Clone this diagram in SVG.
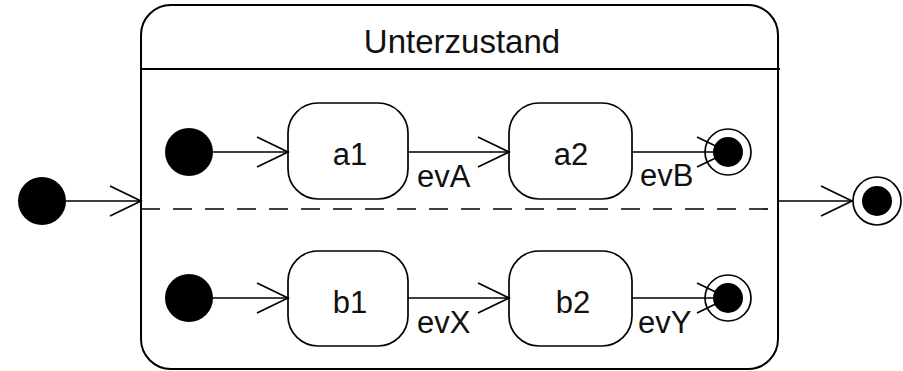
<svg xmlns="http://www.w3.org/2000/svg" width="903" height="371" viewBox="0 0 903 371">
  <style>
    text { font-family: "Liberation Sans", Arial, sans-serif; fill: #111; }
    .title { font-size: 33px; text-anchor: middle; }
    .lbl { font-size: 31px; text-anchor: middle; }
    .ev { font-size: 31px; }
    .state { fill: #fff; stroke: #000; stroke-width: 1.7; }
    .init { fill: #000; }
    .fring { fill: #fff; stroke: #000; stroke-width: 1.7; }
    .fdot { fill: #000; }
    .edge { fill: none; stroke: #000; stroke-width: 1.7; marker-end: url(#open); }
  </style>
  <defs>
    <marker id="open" markerUnits="userSpaceOnUse" viewBox="-34 -18 36 36" markerWidth="36" markerHeight="36" refX="0" refY="0" orient="auto" overflow="visible">
      <path d="M-31,-15 L0,0 L-31,15" fill="none" stroke="#000" stroke-width="1.7"/>
    </marker>
  </defs>
  <rect width="903" height="371" fill="#fff"/>

  <g id="Unterzustand">
    <rect x="141" y="5" width="637" height="364" rx="30" ry="30" fill="#fff" stroke="#000" stroke-width="2"/>
    <line x1="141" y1="69" x2="780" y2="69" stroke="#000" stroke-width="2"/>
    <line x1="141" y1="209" x2="770" y2="209" stroke="#000" stroke-width="1.7" stroke-dasharray="19 13"/>
    <text class="title" x="462" y="53">Unterzustand</text>
  </g>

  <g id="init_outer"><circle class="init" cx="42" cy="201" r="24"/></g>
  <g id="final_outer">
    <circle class="fring" cx="877" cy="201" r="24" stroke-width="2"/>
    <circle class="fdot" cx="877" cy="201" r="15"/>
  </g>

  <g id="init_a"><circle class="init" cx="189" cy="152" r="24"/></g>
  <g id="a1">
    <rect class="state" x="288" y="103" width="120" height="96" rx="30" ry="30"/>
    <text class="lbl" x="350" y="165">a1</text>
  </g>
  <g id="a2">
    <rect class="state" x="509" y="103" width="123" height="96" rx="30" ry="30"/>
    <text class="lbl" x="571" y="165">a2</text>
  </g>
  <g id="final_a">
    <circle class="fring" cx="728" cy="152" r="23"/>
    <circle class="fdot" cx="728" cy="152" r="15"/>
  </g>

  <g id="init_b"><circle class="init" cx="189" cy="298" r="24"/></g>
  <g id="b1">
    <rect class="state" x="288" y="251" width="120" height="95" rx="30" ry="30"/>
    <text class="lbl" x="350" y="313">b1</text>
  </g>
  <g id="b2">
    <rect class="state" x="509" y="251" width="123" height="95" rx="30" ry="30"/>
    <text class="lbl" x="573" y="313">b2</text>
  </g>
  <g id="final_b">
    <circle class="fring" cx="728" cy="298" r="23"/>
    <circle class="fdot" cx="728" cy="298" r="15"/>
  </g>

  <g id="connectors">
    <line class="edge" x1="66" y1="201" x2="141" y2="201"/>
    <line class="edge" x1="778" y1="201" x2="852" y2="201"/>
    <line class="edge" x1="213" y1="152" x2="288" y2="152"/>
    <line class="edge" x1="408" y1="152" x2="509" y2="152"/>
    <line class="edge" x1="632" y1="152" x2="728" y2="152"/>
    <line class="edge" x1="213" y1="298" x2="288" y2="298"/>
    <line class="edge" x1="408" y1="298" x2="509" y2="298"/>
    <line class="edge" x1="632" y1="298" x2="728" y2="298"/>
    <text class="ev" x="417" y="187">evA</text>
    <text class="ev" x="640" y="186">evB</text>
    <text class="ev" x="417" y="333">evX</text>
    <text class="ev" x="638" y="333">evY</text>
  </g>
</svg>
